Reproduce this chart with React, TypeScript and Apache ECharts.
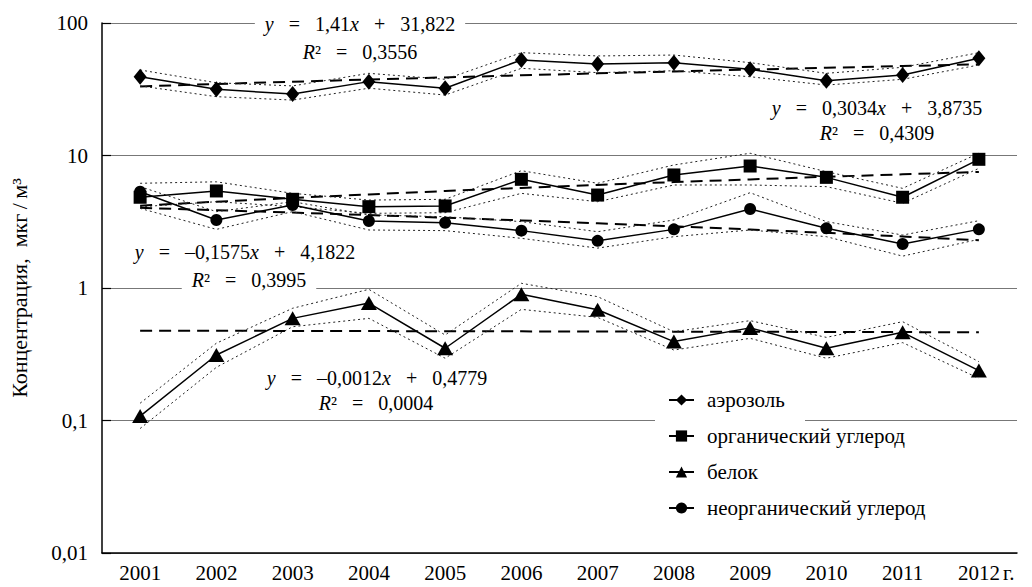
import React, { useEffect, useRef } from "react";
import * as echarts from "echarts";

const years = ["2001", "2002", "2003", "2004", "2005", "2006", "2007", "2008", "2009", "2010", "2011", "2012"];

const aerosol = [39.3, 31.6, 29.1, 36.1, 32.2, 52.6, 49.0, 50.2, 44.7, 36.7, 40.5, 54.1];
const aerosolUpper = [44.2, 35.4, 33.5, 41.7, 37.6, 59.7, 56.4, 57.3, 50.2, 41.7, 46.3, 59.7];
const aerosolLower = [33.5, 27.8, 26.2, 32.2, 28.6, 45.5, 42.2, 43.6, 39.3, 34.0, 37.6, 48.2];
const aerosolTrend = [33.23, 34.64, 36.05, 37.46, 38.87, 40.28, 41.69, 43.1, 44.51, 45.92, 47.33, 48.74];

const organic = [4.84, 5.4, 4.67, 4.11, 4.16, 6.61, 5.03, 7.13, 8.33, 6.84, 4.84, 9.36];
const organicUpper = [6.17, 6.33, 5.18, 4.61, 4.67, 7.68, 6.17, 8.48, 10.4, 7.55, 5.65, 10.4];
const organicLower = [4.1, 4.48, 4.11, 3.66, 3.7, 5.18, 4.48, 5.99, 5.99, 5.82, 4.36, 8.0];
const organicTrend = [4.177, 4.48, 4.784, 5.087, 5.391, 5.694, 5.997, 6.301, 6.604, 6.908, 7.211, 7.514];

const protein = [0.108, 0.312, 0.59, 0.77, 0.351, 0.896, 0.686, 0.394, 0.5, 0.351, 0.463, 0.238];
const proteinUpper = [0.135, 0.383, 0.703, 0.977, 0.442, 1.085, 0.86, 0.468, 0.567, 0.424, 0.557, 0.278];
const proteinLower = [0.087, 0.252, 0.51, 0.59, 0.295, 0.69, 0.6, 0.34, 0.417, 0.295, 0.387, 0.208];
const proteinTrend = [0.4767, 0.4755, 0.4743, 0.4731, 0.4719, 0.4707, 0.4695, 0.4683, 0.4671, 0.4659, 0.4647, 0.4635];

const inorganic = [5.33, 3.26, 4.23, 3.2, 3.11, 2.71, 2.27, 2.77, 3.95, 2.82, 2.15, 2.77];
const inorganicUpper = [5.82, 3.77, 4.48, 3.56, 3.45, 3.17, 2.66, 3.26, 5.24, 3.17, 2.51, 3.22];
const inorganicLower = [3.99, 2.77, 3.77, 2.74, 2.71, 2.37, 2.0, 2.44, 2.74, 2.44, 1.74, 2.33];
const inorganicTrend = [4.025, 3.867, 3.71, 3.552, 3.395, 3.237, 3.08, 2.922, 2.765, 2.607, 2.45, 2.292];

const names = ["аэрозоль", "органический углерод", "белок", "неорганический углерод"];

const FONT = "'Liberation Serif', 'Times New Roman', serif";
const FS = 21;
const EQ_FS = 20;
const G = " \u2002"; // wide math spacing

export default function App() {
  const ref = useRef<HTMLDivElement>(null);
  useEffect(() => {
    if (!ref.current) return;
    const chart = echarts.init(ref.current, undefined, { renderer: "svg" });

    const mainLine = (name: string, data: number[], symbol: string, size: any) => ({
      name,
      type: "line",
      data,
      symbol,
      symbolSize: size,
      z: 5,
      lineStyle: { color: "#000", width: 1.5 },
      itemStyle: { color: "#000" },
    });
    const trend = (data: number[]) => ({
      type: "line",
      data,
      symbol: "none",
      silent: true,
      z: 3,
      lineStyle: { color: "#000", width: 2, type: [12, 7] },
    });
    const band = (data: number[]) => ({
      type: "line",
      data,
      symbol: "none",
      silent: true,
      z: 3,
      lineStyle: { color: "#222", width: 1, type: [2, 3] },
    });

    const rich = {
      i: { fontFamily: FONT, fontStyle: "italic", fontSize: EQ_FS, color: "#000" },
      n: { fontFamily: FONT, fontSize: EQ_FS, color: "#000" },
    };
    const eq = (x: number, y: number, parts: string, bg: boolean) => ({
      type: "text",
      x,
      y,
      z: 1,
      style: {
        text: parts,
        rich,
        fontFamily: FONT,
        fontSize: EQ_FS,
        fill: "#000",
        align: "center",
        verticalAlign: "middle",
        backgroundColor: bg ? "#fff" : "transparent",
        padding: bg ? [2, 10] : 0,
      },
    });
    const yEq = (a: string, b: string) => `{i|y}{n|${G}=${G}${a}}{i|x}{n|${G}+${G}${b}}`;
    const rEq = (v: string) => `{i|R}{n|²${G}=${G}${v}}`;

    chart.setOption({
      animation: false,
      backgroundColor: "#fff",
      grid: { left: 101, right: 15, top: 23, bottom: 34, containLabel: false },
      legend: {
        data: names,
        orient: "vertical",
        left: 663,
        top: 383,
        itemWidth: 25,
        itemHeight: 14,
        itemGap: 12,
        z: 6,
        textStyle: { fontFamily: FONT, fontSize: FS, color: "#000", lineHeight: 24, padding: [0, 0, 0, 8] },
      },
      xAxis: {
        type: "category",
        data: years,
        boundaryGap: true,
        axisLine: { lineStyle: { color: "#000", width: 1.5 } },
        axisTick: { inside: true, length: 7, lineStyle: { color: "#000", width: 1.2 } },
        axisLabel: { fontFamily: FONT, fontSize: FS, color: "#000", margin: 9 },
        splitLine: { show: false },
      },
      yAxis: {
        type: "log",
        logBase: 10,
        min: 0.01,
        max: 100,
        name: "Концентрация,  мкг\u2009/\u2009м³",
        nameLocation: "middle",
        nameRotate: 90,
        nameGap: 72,
        nameTextStyle: { fontFamily: FONT, fontSize: 22, color: "#000" },
        axisLine: { show: true, lineStyle: { color: "#000", width: 1.5 } },
        axisTick: { show: true, inside: true, length: 9, lineStyle: { color: "#000", width: 1.2 } },
        axisLabel: {
          fontFamily: FONT,
          fontSize: FS,
          color: "#000",
          margin: 14,
          formatter: (v: number) => String(v).replace(".", ","),
        },
        splitLine: { show: true, lineStyle: { color: "#777", width: 1 } },
      },
      graphic: [
        { type: "rect", z: 1, shape: { x: 655, y: 385, width: 150, height: 140 }, style: { fill: "#fff" } },
        eq(360, 24, yEq("1,41", "31,822"), true),
        eq(360, 52, rEq("0,3556"), false),
        eq(877, 108, yEq("0,3034", "3,8735"), false),
        eq(877, 133, rEq("0,4309"), false),
        eq(245, 252, yEq("–0,1575", "4,1822"), false),
        eq(249, 280, rEq("0,3995"), true),
        eq(377, 378, yEq("–0,0012", "0,4779"), false),
        eq(376, 403, rEq("0,0004"), false),
        {
          type: "text",
          x: 1003,
          y: 573,
          style: { text: "г.", fontFamily: FONT, fontSize: FS, fill: "#000", align: "left", verticalAlign: "middle" },
        },
      ],
      series: [
        mainLine(names[0], aerosol, "diamond", [13, 16]),
        trend(aerosolTrend),
        band(aerosolUpper),
        band(aerosolLower),
        mainLine(names[1], organic, "rect", 13),
        trend(organicTrend),
        band(organicUpper),
        band(organicLower),
        mainLine(names[2], protein, "triangle", [16, 14]),
        trend(proteinTrend),
        band(proteinUpper),
        band(proteinLower),
        mainLine(names[3], inorganic, "circle", 12),
        trend(inorganicTrend),
        band(inorganicUpper),
        band(inorganicLower),
      ],
    });
    return () => chart.dispose();
  }, []);
  return <div ref={ref} style={{ position: "fixed", left: 0, top: 0, width: 1032, height: 587 }} />;
}
